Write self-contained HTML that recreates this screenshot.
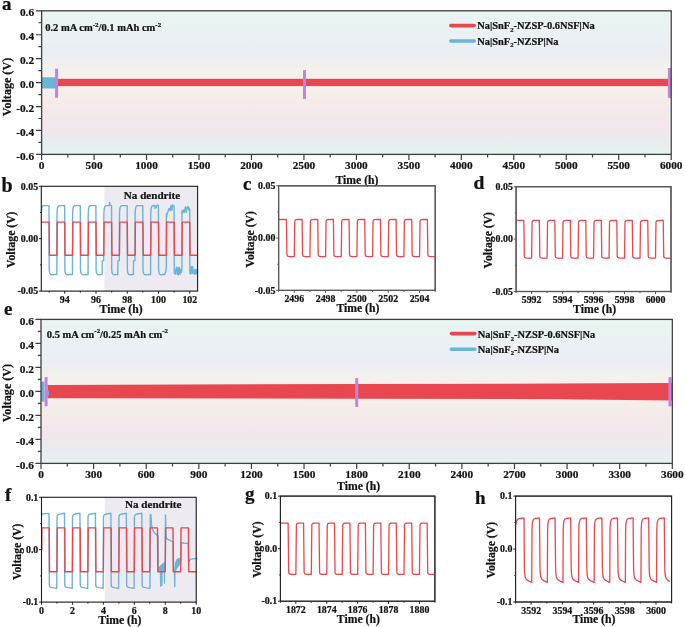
<!DOCTYPE html>
<html><head><meta charset="utf-8"><title>Figure</title>
<style>
html,body{margin:0;padding:0;background:#fff;}
svg{display:block;will-change:transform;font-family:'Liberation Serif', serif;font-weight:bold;fill:#111;}
svg text{stroke:#111;stroke-width:0.22px;}

</style></head><body>
<svg width="685" height="627" viewBox="0 0 685 627">
<rect width="685" height="627" fill="#ffffff"/>
<defs><linearGradient id="bg" x1="0" y1="0" x2="0" y2="1"><stop offset="0" stop-color="#e8f5f1"/><stop offset="0.15" stop-color="#eaf1f3"/><stop offset="0.30" stop-color="#ebeef5"/><stop offset="0.41" stop-color="#f3f1ec"/><stop offset="0.55" stop-color="#f6efea"/><stop offset="0.70" stop-color="#f4e9ea"/><stop offset="0.82" stop-color="#efe7ec"/><stop offset="0.92" stop-color="#e8ecf0"/><stop offset="1" stop-color="#e4f3f0"/></linearGradient></defs>
<rect x="41.6" y="10.8" width="628.00" height="143.60" fill="url(#bg)"/>
<rect x="41.60" y="77.3" width="14.90" height="11.2" fill="#6ab4d8"/>
<rect x="56.5" y="78.8" width="614.70" height="7.3" fill="#e8474f"/>
<rect x="55.1" y="68.6" width="3.0" height="29.20" fill="#c880e0"/>
<rect x="303.0" y="70.1" width="3.0" height="28.90" fill="#c880e0"/>
<rect x="667.9" y="68.0" width="3.0" height="29.90" fill="#c880e0"/>
<rect x="41.60" y="10.80" width="629.60" height="143.60" fill="none" stroke="#3e3e3e" stroke-width="1.3"/>
<path d="M41.60 154.40h-5.6M41.60 130.47h-5.6M41.60 106.53h-5.6M41.60 82.60h-5.6M41.60 58.67h-5.6M41.60 34.73h-5.6M41.60 10.80h-5.6" stroke="#3e3e3e" stroke-width="1.2" fill="none"/>
<path d="M41.60 142.43h-3.2M41.60 118.50h-3.2M41.60 94.57h-3.2M41.60 70.63h-3.2M41.60 46.70h-3.2M41.60 22.77h-3.2" stroke="#3e3e3e" stroke-width="1.2" fill="none"/>
<path d="M41.60 154.40v5.6M94.07 154.40v5.6M146.53 154.40v5.6M199.00 154.40v5.6M251.47 154.40v5.6M303.93 154.40v5.6M356.40 154.40v5.6M408.87 154.40v5.6M461.33 154.40v5.6M513.80 154.40v5.6M566.27 154.40v5.6M618.73 154.40v5.6M671.20 154.40v5.6" stroke="#3e3e3e" stroke-width="1.2" fill="none"/>
<path d="M67.83 154.40v3.0M120.30 154.40v3.0M172.77 154.40v3.0M225.23 154.40v3.0M277.70 154.40v3.0M330.17 154.40v3.0M382.63 154.40v3.0M435.10 154.40v3.0M487.57 154.40v3.0M540.03 154.40v3.0M592.50 154.40v3.0M644.97 154.40v3.0" stroke="#3e3e3e" stroke-width="1.2" fill="none"/>
<text x="34.10" y="159.50" font-size="11.3" text-anchor="end" >-0.6</text>
<text x="34.10" y="135.57" font-size="11.3" text-anchor="end" >-0.4</text>
<text x="34.10" y="111.63" font-size="11.3" text-anchor="end" >-0.2</text>
<text x="34.10" y="87.70" font-size="11.3" text-anchor="end" >0.0</text>
<text x="34.10" y="63.77" font-size="11.3" text-anchor="end" >0.2</text>
<text x="34.10" y="39.83" font-size="11.3" text-anchor="end" >0.4</text>
<text x="34.10" y="15.90" font-size="11.3" text-anchor="end" >0.6</text>
<text x="41.60" y="169.20" font-size="11.3" text-anchor="middle" >0</text>
<text x="94.07" y="169.20" font-size="11.3" text-anchor="middle" >500</text>
<text x="146.53" y="169.20" font-size="11.3" text-anchor="middle" >1000</text>
<text x="199.00" y="169.20" font-size="11.3" text-anchor="middle" >1500</text>
<text x="251.47" y="169.20" font-size="11.3" text-anchor="middle" >2000</text>
<text x="303.93" y="169.20" font-size="11.3" text-anchor="middle" >2500</text>
<text x="356.40" y="169.20" font-size="11.3" text-anchor="middle" >3000</text>
<text x="408.87" y="169.20" font-size="11.3" text-anchor="middle" >3500</text>
<text x="461.33" y="169.20" font-size="11.3" text-anchor="middle" >4000</text>
<text x="513.80" y="169.20" font-size="11.3" text-anchor="middle" >4500</text>
<text x="566.27" y="169.20" font-size="11.3" text-anchor="middle" >5000</text>
<text x="618.73" y="169.20" font-size="11.3" text-anchor="middle" >5500</text>
<text x="671.20" y="169.20" font-size="11.3" text-anchor="middle" >6000</text>
<text x="357.00" y="183.60" font-size="11.7" text-anchor="middle" >Time (h)</text>
<text transform="translate(10.80,87.00) rotate(-90)" font-size="12.1" text-anchor="middle">Voltage (V)</text>
<text x="2.00" y="10.40" font-size="19" text-anchor="start" >a</text>
<text x="45.2" y="31.4" font-size="10.5" text-anchor="start">0.2 mA cm<tspan dy="-4.4" font-size="6.9">-2</tspan><tspan dy="4.4">/0.1 mAh cm</tspan><tspan dy="-4.4" font-size="6.9">-2</tspan></text>
<path d="M450.8 25.6H474.2" stroke="#e8474f" stroke-width="3.6" stroke-linecap="round"/>
<path d="M450.8 41.0H474.2" stroke="#6ab4d8" stroke-width="3.6" stroke-linecap="round"/>
<text x="477.3" y="29.1" font-size="10.4" text-anchor="start">Na|SnF<tspan dy="2.4" font-size="6.6">2</tspan><tspan dy="-2.4">-NZSP-0.6NSF|Na</tspan></text>
<text x="477.3" y="44.7" font-size="10.4" text-anchor="start">Na|SnF<tspan dy="2.4" font-size="6.6">2</tspan><tspan dy="-2.4">-NZSP|Na</tspan></text>
<rect x="41.0" y="319.4" width="629.70" height="144.00" fill="url(#bg)"/>
<path d="M41.0 381.6H44.5V401.6H41.0Z" fill="#6ab4d8"/>
<path d="M47 389.0Q51.4 393.2 47 397.5Z" fill="#6ab4d8"/>
<path d="M47.5 385.0 L356.7 383.9 L560 383.6 L672 383.0 L672 400.6 L560 399.2 L356.7 398.7 L47.5 398.3Z" fill="#e8474f"/>
<path d="M47 389.0Q51.4 393.2 47 397.5Z" fill="#6ab4d8"/>
<rect x="44.6" y="377.1" width="3.0" height="29.20" fill="#c880e0"/>
<rect x="355.2" y="378.1" width="3.0" height="28.80" fill="#c880e0"/>
<rect x="668.5" y="377.1" width="3.0" height="29.20" fill="#c880e0"/>
<rect x="41.00" y="319.40" width="631.30" height="144.00" fill="none" stroke="#3e3e3e" stroke-width="1.3"/>
<path d="M41.00 463.40h-5.6M41.00 439.40h-5.6M41.00 415.40h-5.6M41.00 391.40h-5.6M41.00 367.40h-5.6M41.00 343.40h-5.6M41.00 319.40h-5.6" stroke="#3e3e3e" stroke-width="1.2" fill="none"/>
<path d="M41.00 451.40h-3.2M41.00 427.40h-3.2M41.00 403.40h-3.2M41.00 379.40h-3.2M41.00 355.40h-3.2M41.00 331.40h-3.2" stroke="#3e3e3e" stroke-width="1.2" fill="none"/>
<path d="M41.00 463.40v5.6M93.61 463.40v5.6M146.22 463.40v5.6M198.82 463.40v5.6M251.43 463.40v5.6M304.04 463.40v5.6M356.65 463.40v5.6M409.26 463.40v5.6M461.87 463.40v5.6M514.47 463.40v5.6M567.08 463.40v5.6M619.69 463.40v5.6M672.30 463.40v5.6" stroke="#3e3e3e" stroke-width="1.2" fill="none"/>
<path d="M67.30 463.40v3.0M119.91 463.40v3.0M172.52 463.40v3.0M225.13 463.40v3.0M277.74 463.40v3.0M330.35 463.40v3.0M382.95 463.40v3.0M435.56 463.40v3.0M488.17 463.40v3.0M540.78 463.40v3.0M593.39 463.40v3.0M646.00 463.40v3.0" stroke="#3e3e3e" stroke-width="1.2" fill="none"/>
<text x="33.90" y="468.50" font-size="11.3" text-anchor="end" >-0.6</text>
<text x="33.90" y="444.50" font-size="11.3" text-anchor="end" >-0.4</text>
<text x="33.90" y="420.50" font-size="11.3" text-anchor="end" >-0.2</text>
<text x="33.90" y="396.50" font-size="11.3" text-anchor="end" >0.0</text>
<text x="33.90" y="372.50" font-size="11.3" text-anchor="end" >0.2</text>
<text x="33.90" y="348.50" font-size="11.3" text-anchor="end" >0.4</text>
<text x="33.90" y="324.50" font-size="11.3" text-anchor="end" >0.6</text>
<text x="41.00" y="478.20" font-size="11.3" text-anchor="middle" >0</text>
<text x="93.61" y="478.20" font-size="11.3" text-anchor="middle" >300</text>
<text x="146.22" y="478.20" font-size="11.3" text-anchor="middle" >600</text>
<text x="198.82" y="478.20" font-size="11.3" text-anchor="middle" >900</text>
<text x="251.43" y="478.20" font-size="11.3" text-anchor="middle" >1200</text>
<text x="304.04" y="478.20" font-size="11.3" text-anchor="middle" >1500</text>
<text x="356.65" y="478.20" font-size="11.3" text-anchor="middle" >1800</text>
<text x="409.26" y="478.20" font-size="11.3" text-anchor="middle" >2100</text>
<text x="461.87" y="478.20" font-size="11.3" text-anchor="middle" >2400</text>
<text x="514.47" y="478.20" font-size="11.3" text-anchor="middle" >2700</text>
<text x="567.08" y="478.20" font-size="11.3" text-anchor="middle" >3000</text>
<text x="619.69" y="478.20" font-size="11.3" text-anchor="middle" >3300</text>
<text x="672.30" y="478.20" font-size="11.3" text-anchor="middle" >3600</text>
<text x="358.60" y="489.90" font-size="11.7" text-anchor="middle" >Time (h)</text>
<text transform="translate(10.90,393.10) rotate(-90)" font-size="12.1" text-anchor="middle">Voltage (V)</text>
<text x="4.00" y="314.80" font-size="19" text-anchor="start" >e</text>
<text x="46.8" y="337.6" font-size="10.5" text-anchor="start">0.5 mA cm<tspan dy="-4.4" font-size="6.9">-2</tspan><tspan dy="4.4">/0.25 mAh cm</tspan><tspan dy="-4.4" font-size="6.9">-2</tspan></text>
<path d="M451.4 333.6H474.8" stroke="#e8474f" stroke-width="3.6" stroke-linecap="round"/>
<path d="M451.4 349.3H474.8" stroke="#6ab4d8" stroke-width="3.6" stroke-linecap="round"/>
<text x="477.8" y="338.1" font-size="10.4" text-anchor="start">Na|SnF<tspan dy="2.4" font-size="6.6">2</tspan><tspan dy="-2.4">-NZSP-0.6NSF|Na</tspan></text>
<text x="477.8" y="353.0" font-size="10.4" text-anchor="start">Na|SnF<tspan dy="2.4" font-size="6.6">2</tspan><tspan dy="-2.4">-NZSP|Na</tspan></text>
<rect x="104.4" y="186.3" width="93.20" height="104.80" fill="#edeaf1"/>
<path d="M41.30 212.00 L41.80 207.40 L42.70 205.90 L43.90 205.60 L49.01 205.60 L49.21 270.00 L49.61 272.80 L50.61 274.50 L53.11 274.70 L54.11 274.40 L56.83 274.50 L56.98 214.00 L57.28 209.00 L57.83 206.80 L58.83 205.80 L59.93 205.60 L64.65 205.60 L64.84 270.00 L65.25 272.80 L66.25 274.50 L68.75 274.70 L69.75 274.40 L72.46 274.50 L72.61 214.00 L72.91 209.00 L73.46 206.80 L74.46 205.80 L75.56 205.60 L80.28 205.60 L80.47 270.00 L80.88 272.80 L81.88 274.50 L84.38 274.70 L85.38 274.40 L88.09 274.50 L88.24 214.00 L88.54 209.00 L89.09 206.80 L90.09 205.80 L91.19 205.60 L95.91 205.60 L96.10 270.00 L96.50 272.80 L97.50 274.50 L100.00 274.70 L101.00 274.40 L102.12 274.50 L102.27 261.00 L103.67 260.60 L103.87 214.00 L104.17 209.00 L104.72 206.80 L105.72 205.80 L106.82 205.60 L109.34 205.60 L109.64 202.30 L109.94 205.00 L110.73 205.40 L111.54 205.60 L111.73 270.00 L112.14 272.80 L113.14 274.50 L115.64 274.70 L116.64 274.40 L117.75 274.50 L117.90 261.00 L119.30 260.60 L119.50 214.00 L119.80 209.00 L120.35 206.80 L121.35 205.80 L122.45 205.60 L127.17 205.60 L127.36 270.00 L127.77 272.80 L128.76 274.50 L131.26 274.70 L132.26 274.40 L133.38 274.50 L133.53 261.00 L134.93 260.60 L135.13 214.00 L135.43 209.00 L135.98 206.80 L136.98 205.80 L138.08 205.60 L142.79 205.60 L142.99 270.00 L143.39 272.80 L144.39 274.50 L146.89 274.70 L147.89 274.40 L150.61 274.50 L150.76 214.00 L151.06 209.00 L151.61 206.80 L152.61 205.80 L153.71 205.60 L154.11 206.00 L154.61 205.30 L155.11 208.40 L155.61 206.00 L156.21 207.60 L156.81 205.60 L157.71 205.20 L158.42 205.20 L158.62 270.00 L159.02 272.80 L160.02 274.50 L161.52 274.80 L163.02 274.30 L164.72 274.50 L165.42 272.80 L166.02 270.00 L166.37 266.50 L166.34 214.00 L166.69 217.00 L167.14 213.50 L167.94 211.70 L168.54 209.50 L169.14 208.40 L169.74 209.20 L170.34 210.90 L170.74 207.00 L171.14 205.40 L171.54 208.50 L171.94 210.20 L172.34 206.50 L172.74 205.00 L173.34 205.60 L173.94 206.00 L174.06 206.00 L174.26 272.60 L175.16 274.20 L175.96 269.40 L176.56 267.20 L177.16 274.20 L177.96 268.00 L178.46 275.00 L179.26 267.20 L180.06 274.20 L180.86 269.20 L181.56 272.20 L181.96 266.00 L181.97 210.80 L182.47 213.40 L182.87 212.50 L183.57 210.00 L183.97 211.50 L184.37 212.40 L184.97 208.60 L185.57 206.80 L185.97 209.50 L186.37 212.40 L186.77 209.00 L187.17 207.60 L187.97 206.40 L188.37 208.50 L188.77 210.00 L189.17 208.00 L189.57 208.60 L189.69 209.50 L189.89 273.00 L190.59 274.20 L191.39 266.80 L192.19 273.40 L192.59 266.40 L193.39 272.60 L194.19 274.20 L194.59 271.00 L194.99 269.40 L195.39 273.60 L195.79 269.60 L196.19 273.80 L196.59 269.80 L196.99 273.00 L197.30 270.40" stroke="#6ab4d8" stroke-width="1.4" fill="none" stroke-linejoin="round" />
<path d="M194.19 274.4 L194.39 270 L197.20 269.6 L197.20 274.4Z" fill="#6ab4d8" opacity="0.85"/>
<path d="M41.30 222.14 L49.11 222.14 L49.43 255.26 L56.93 255.26 L57.24 222.14 L64.75 222.14 L65.06 255.26 L72.56 255.26 L72.87 222.14 L80.38 222.14 L80.69 255.26 L88.19 255.26 L88.50 222.14 L96.00 222.14 L96.32 255.26 L103.82 255.26 L104.13 222.14 L111.64 222.14 L111.95 255.26 L119.45 255.26 L119.76 222.14 L127.27 222.14 L127.58 255.26 L135.08 255.26 L135.39 222.14 L142.90 222.14 L143.21 255.26 L150.71 255.26 L151.02 222.14 L158.53 222.14 L158.84 255.26 L166.34 255.26 L166.65 222.14 L174.16 222.14 L174.47 255.26 L181.97 255.26 L182.28 222.14 L189.79 222.14 L190.10 255.26 L197.60 255.26" stroke="#e8474f" stroke-width="1.4" fill="none" stroke-linejoin="round" />
<rect x="41.30" y="186.30" width="156.30" height="104.80" fill="none" stroke="#1a1a1a" stroke-width="1.1"/>
<path d="M41.30 186.30h-2.4M41.30 238.70h-2.4M41.30 291.10h-2.4" stroke="#1a1a1a" stroke-width="1.0" fill="none"/>
<path d="M41.30 212.50h-1.2M41.30 264.90h-1.2" stroke="#1a1a1a" stroke-width="1.0" fill="none"/>
<path d="M64.75 291.10v2.6M96.00 291.10v2.6M127.27 291.10v2.6M158.53 291.10v2.6M189.79 291.10v2.6" stroke="#1a1a1a" stroke-width="1.0" fill="none"/>
<path d="M49.11 291.10v1.5M80.38 291.10v1.5M111.64 291.10v1.5M142.90 291.10v1.5M174.16 291.10v1.5" stroke="#1a1a1a" stroke-width="1.0" fill="none"/>
<text x="38.10" y="189.50" font-size="9.9" text-anchor="end" >0.05</text>
<text x="38.10" y="241.90" font-size="9.9" text-anchor="end" >0.00</text>
<text x="38.10" y="294.30" font-size="9.9" text-anchor="end" >-0.05</text>
<text x="64.75" y="302.60" font-size="9.9" text-anchor="middle" >94</text>
<text x="96.00" y="302.60" font-size="9.9" text-anchor="middle" >96</text>
<text x="127.27" y="302.60" font-size="9.9" text-anchor="middle" >98</text>
<text x="158.53" y="302.60" font-size="9.9" text-anchor="middle" >100</text>
<text x="189.79" y="302.60" font-size="9.9" text-anchor="middle" >102</text>
<text x="121.05" y="312.90" font-size="11.7" text-anchor="middle" >Time (h)</text>
<text transform="translate(14.60,239.70) rotate(-90)" font-size="11.7" text-anchor="middle">Voltage (V)</text>
<text x="1.60" y="192.20" font-size="20.0" text-anchor="start" >b</text>
<text x="152.00" y="198.90" font-size="11.1" text-anchor="middle" >Na dendrite</text>
<rect x="278.60" y="185.80" width="156.60" height="104.60" fill="none" stroke="#585858" stroke-width="1.2"/>
<path d="M278.60 185.80h-2.4M278.60 238.10h-2.4M278.60 290.40h-2.4" stroke="#585858" stroke-width="1.0" fill="none"/>
<path d="M278.60 211.95h-1.2M278.60 264.25h-1.2" stroke="#585858" stroke-width="1.0" fill="none"/>
<path d="M294.26 290.40v2.6M325.58 290.40v2.6M356.90 290.40v2.6M388.22 290.40v2.6M419.54 290.40v2.6" stroke="#585858" stroke-width="1.0" fill="none"/>
<path d="M278.60 290.40v1.5M309.92 290.40v1.5M341.24 290.40v1.5M372.56 290.40v1.5M403.88 290.40v1.5M435.20 290.40v1.5" stroke="#585858" stroke-width="1.0" fill="none"/>
<text x="275.40" y="189.00" font-size="9.9" text-anchor="end" >0.05</text>
<text x="275.40" y="241.30" font-size="9.9" text-anchor="end" >0.00</text>
<text x="275.40" y="293.60" font-size="9.9" text-anchor="end" >-0.05</text>
<text x="294.26" y="302.00" font-size="9.9" text-anchor="middle" >2496</text>
<text x="325.58" y="302.00" font-size="9.9" text-anchor="middle" >2498</text>
<text x="356.90" y="302.00" font-size="9.9" text-anchor="middle" >2500</text>
<text x="388.22" y="302.00" font-size="9.9" text-anchor="middle" >2502</text>
<text x="419.54" y="302.00" font-size="9.9" text-anchor="middle" >2504</text>
<text x="357.90" y="312.40" font-size="11.7" text-anchor="middle" >Time (h)</text>
<text transform="translate(253.80,239.30) rotate(-90)" font-size="11.7" text-anchor="middle">Voltage (V)</text>
<text x="243.00" y="190.00" font-size="19" text-anchor="start" >c</text>
<path d="M278.60 219.48 L286.43 219.48 L286.90 254.76 L287.37 255.97 L288.31 256.47 L289.41 256.61 L294.26 256.61 L294.73 221.34 L295.20 220.13 L296.14 219.63 L297.24 219.48 L302.09 219.48 L302.56 254.76 L303.03 255.97 L303.97 256.47 L305.07 256.61 L309.92 256.61 L310.39 221.34 L310.86 220.13 L311.80 219.63 L312.90 219.48 L317.75 219.48 L318.22 254.76 L318.69 255.97 L319.63 256.47 L320.73 256.61 L325.58 256.61 L326.05 221.34 L326.52 220.13 L327.46 219.63 L328.56 219.48 L333.41 219.48 L333.88 254.76 L334.35 255.97 L335.29 256.47 L336.39 256.61 L341.24 256.61 L341.71 221.34 L342.18 220.13 L343.12 219.63 L344.22 219.48 L349.07 219.48 L349.54 254.76 L350.01 255.97 L350.95 256.47 L352.05 256.61 L356.90 256.61 L357.37 221.34 L357.84 220.13 L358.78 219.63 L359.88 219.48 L364.73 219.48 L365.20 254.76 L365.67 255.97 L366.61 256.47 L367.71 256.61 L372.56 256.61 L373.03 221.34 L373.50 220.13 L374.44 219.63 L375.54 219.48 L380.39 219.48 L380.86 254.76 L381.33 255.97 L382.27 256.47 L383.37 256.61 L388.22 256.61 L388.69 221.34 L389.16 220.13 L390.10 219.63 L391.20 219.48 L396.05 219.48 L396.52 254.76 L396.99 255.97 L397.93 256.47 L399.03 256.61 L403.88 256.61 L404.35 221.34 L404.82 220.13 L405.76 219.63 L406.86 219.48 L411.71 219.48 L412.18 254.76 L412.65 255.97 L413.59 256.47 L414.69 256.61 L419.54 256.61 L420.01 221.34 L420.48 220.13 L421.42 219.63 L422.52 219.48 L427.37 219.48 L427.84 254.76 L428.31 255.97 L429.25 256.47 L430.35 256.61 L435.20 256.61" stroke="#e8474f" stroke-width="1.3" fill="none" stroke-linejoin="round" />
<rect x="278.60" y="185.80" width="156.60" height="104.60" fill="none" stroke="#585858" stroke-width="1.2"/>
<rect x="516.10" y="186.70" width="154.90" height="104.80" fill="none" stroke="#585858" stroke-width="1.2"/>
<path d="M516.10 186.70h-2.4M516.10 239.10h-2.4M516.10 291.50h-2.4" stroke="#585858" stroke-width="1.0" fill="none"/>
<path d="M516.10 212.90h-1.2M516.10 265.30h-1.2" stroke="#585858" stroke-width="1.0" fill="none"/>
<path d="M531.59 291.50v2.6M562.57 291.50v2.6M593.55 291.50v2.6M624.53 291.50v2.6M655.51 291.50v2.6" stroke="#585858" stroke-width="1.0" fill="none"/>
<path d="M516.10 291.50v1.5M547.08 291.50v1.5M578.06 291.50v1.5M609.04 291.50v1.5M640.02 291.50v1.5M671.00 291.50v1.5" stroke="#585858" stroke-width="1.0" fill="none"/>
<text x="512.90" y="189.90" font-size="9.9" text-anchor="end" >0.05</text>
<text x="512.90" y="242.30" font-size="9.9" text-anchor="end" >0.00</text>
<text x="512.90" y="294.70" font-size="9.9" text-anchor="end" >-0.05</text>
<text x="531.59" y="302.70" font-size="9.9" text-anchor="middle" >5992</text>
<text x="562.57" y="302.70" font-size="9.9" text-anchor="middle" >5994</text>
<text x="593.55" y="302.70" font-size="9.9" text-anchor="middle" >5996</text>
<text x="624.53" y="302.70" font-size="9.9" text-anchor="middle" >5998</text>
<text x="655.51" y="302.70" font-size="9.9" text-anchor="middle" >6000</text>
<text x="594.55" y="313.00" font-size="11.7" text-anchor="middle" >Time (h)</text>
<text transform="translate(491.80,240.20) rotate(-90)" font-size="11.7" text-anchor="middle">Voltage (V)</text>
<text x="473.60" y="188.80" font-size="19.6" text-anchor="start" >d</text>
<path d="M516.10 220.45 L523.85 220.45 L524.31 256.17 L524.77 257.40 L525.70 257.92 L526.79 258.07 L531.59 258.07 L532.05 222.31 L532.52 221.10 L533.45 220.59 L534.53 220.45 L539.34 220.45 L539.80 256.17 L540.26 257.40 L541.19 257.92 L542.28 258.07 L547.08 258.07 L547.54 222.31 L548.01 221.10 L548.94 220.59 L550.02 220.45 L554.83 220.45 L555.29 256.17 L555.75 257.40 L556.68 257.92 L557.77 258.07 L562.57 258.07 L563.03 222.31 L563.50 221.10 L564.43 220.59 L565.51 220.45 L570.32 220.45 L570.78 256.17 L571.24 257.40 L572.17 257.92 L573.26 258.07 L578.06 258.07 L578.52 222.31 L578.99 221.10 L579.92 220.59 L581.00 220.45 L585.81 220.45 L586.27 256.17 L586.73 257.40 L587.66 257.92 L588.75 258.07 L593.55 258.07 L594.01 222.31 L594.48 221.10 L595.41 220.59 L596.49 220.45 L601.30 220.45 L601.76 256.17 L602.22 257.40 L603.15 257.92 L604.24 258.07 L609.04 258.07 L609.50 222.31 L609.97 221.10 L610.90 220.59 L611.98 220.45 L616.78 220.45 L617.25 256.17 L617.71 257.40 L618.64 257.92 L619.73 258.07 L624.53 258.07 L624.99 222.31 L625.46 221.10 L626.39 220.59 L627.47 220.45 L632.27 220.45 L632.74 256.17 L633.20 257.40 L634.13 257.92 L635.22 258.07 L640.02 258.07 L640.48 222.31 L640.95 221.10 L641.88 220.59 L642.96 220.45 L647.76 220.45 L648.23 256.17 L648.69 257.40 L649.62 257.92 L650.71 258.07 L655.51 258.07 L655.97 222.31 L656.44 221.10 L657.37 220.59 L658.45 220.45 L663.25 220.45 L663.72 256.17 L664.18 257.40 L665.11 257.92 L666.20 258.07 L671.00 258.07" stroke="#e8474f" stroke-width="1.3" fill="none" stroke-linejoin="round" />
<rect x="516.10" y="186.70" width="154.90" height="104.80" fill="none" stroke="#585858" stroke-width="1.2"/>
<rect x="104.7" y="497.3" width="91.50" height="104.80" fill="#edeaf1"/>
<path d="M158.2 572 L158.4 568.4 L161 565.8 L163 564 L165.3 562 L165.3 572Z" fill="#6ab4d8"/>
<path d="M174.7 571.6 L175.3 565.8 L176.2 561.6 L177.5 559.2 L180.6 558.8 L180.6 564.5 L178.6 566.5 L176.8 569 L175.8 571.6Z" fill="#6ab4d8"/>
<path d="M41.50 515.38 L41.96 514.49 L43.05 513.91 L49.00 513.39 L49.33 584.91 L49.62 586.38 L50.32 587.06 L52.33 587.59 L56.74 588.32 L57.06 517.47 L57.36 515.54 L58.05 514.59 L60.06 513.96 L64.47 513.28 L64.80 584.91 L65.09 586.38 L65.79 587.06 L67.80 587.59 L72.21 588.32 L72.53 517.47 L72.83 515.54 L73.52 514.59 L75.53 513.96 L79.94 513.28 L80.27 584.91 L80.56 586.38 L81.26 587.06 L83.27 587.59 L87.68 588.32 L88.00 517.47 L88.30 515.54 L88.99 514.59 L91.00 513.96 L95.41 513.28 L95.74 584.91 L96.03 586.38 L96.73 587.06 L98.74 587.59 L103.15 588.32 L103.47 517.47 L103.77 515.54 L104.46 514.59 L106.47 513.96 L110.88 513.28 L111.21 584.91 L111.50 586.38 L112.20 587.06 L114.21 587.59 L118.62 588.32 L118.94 517.47 L119.24 515.54 L119.93 514.59 L121.94 513.96 L126.35 513.28 L126.68 584.91 L126.97 586.38 L127.67 587.06 L129.68 587.59 L134.09 588.32 L134.41 517.47 L134.71 515.54 L135.40 514.59 L137.41 513.96 L141.82 513.28 L142.15 584.91 L142.44 586.38 L143.14 587.06 L145.15 587.59 L149.56 588.32 L150.00 587.60 L150.30 514.40 L150.90 514.80 L151.40 524.00 L152.20 528.60 L153.40 531.40 L155.00 533.40 L156.80 535.00 L158.00 535.80 L158.20 571.50 L158.40 568.60 L159.60 567.20 L161.00 565.80 L162.50 564.40 L164.00 563.00 L165.30 562.20 L165.50 515.00 L165.80 530.00 L166.20 537.40 L167.00 538.80 L169.00 539.80 L171.00 540.80 L173.00 541.60 L173.30 541.80 L173.50 571.00 L174.50 571.40 L174.70 586.60 L174.90 570.00 L175.40 565.50 L176.20 561.60 L177.30 559.40 L178.50 558.80 L180.60 559.00 L180.90 561.00 L181.10 542.60 L182.00 542.80 L184.00 543.20 L186.50 543.40 L188.20 543.00 L188.50 561.80 L189.20 561.20 L190.20 559.60 L191.50 558.90 L197.50 558.50" stroke="#6ab4d8" stroke-width="1.4" fill="none" stroke-linejoin="round" />
<path d="M160.30 570.00 L160.50 586.60 L160.80 570.00 M161.60 570.00 L161.90 586.00 L162.20 570.00 M164.20 570.00 L164.50 583.50 L164.70 570.00" stroke="#6ab4d8" stroke-width="1.0" fill="none" stroke-linejoin="round" />
<path d="M41.80 549.70 L41.80 527.85 L49.23 527.85 L49.54 571.76 L56.97 571.76 L57.28 527.85 L64.70 527.85 L65.01 571.76 L72.44 571.76 L72.75 527.85 L80.17 527.85 L80.48 571.76 L87.91 571.76 L88.22 527.85 L95.64 527.85 L95.95 571.76 L103.38 571.76 L103.69 527.85 L111.11 527.85 L111.42 571.76 L118.85 571.76 L119.16 527.85 L126.58 527.85 L126.89 571.76 L134.32 571.76 L134.63 527.85 L142.06 527.85 L142.36 571.76 L149.79 571.76 L150.10 527.85 L157.52 527.85 L157.83 571.76 L165.26 571.76 L165.57 527.85 L172.99 527.85 L173.30 571.76 L180.73 571.76 L181.04 527.85 L188.46 527.85 L188.77 571.76 L196.20 571.76" stroke="#e8474f" stroke-width="1.4" fill="none" stroke-linejoin="round" />
<rect x="41.50" y="497.30" width="154.70" height="104.80" fill="none" stroke="#1a1a1a" stroke-width="1.1"/>
<path d="M41.50 497.30h-2.4M41.50 549.70h-2.4M41.50 602.10h-2.4" stroke="#1a1a1a" stroke-width="1.0" fill="none"/>
<path d="M41.50 523.50h-1.2M41.50 575.90h-1.2" stroke="#1a1a1a" stroke-width="1.0" fill="none"/>
<path d="M41.50 602.10v2.6M72.44 602.10v2.6M103.38 602.10v2.6M134.32 602.10v2.6M165.26 602.10v2.6M196.20 602.10v2.6" stroke="#1a1a1a" stroke-width="1.0" fill="none"/>
<path d="M56.97 602.10v1.5M87.91 602.10v1.5M118.85 602.10v1.5M149.79 602.10v1.5M180.73 602.10v1.5" stroke="#1a1a1a" stroke-width="1.0" fill="none"/>
<text x="38.30" y="500.50" font-size="9.9" text-anchor="end" >0.1</text>
<text x="38.30" y="552.90" font-size="9.9" text-anchor="end" >0.0</text>
<text x="38.30" y="605.30" font-size="9.9" text-anchor="end" >-0.1</text>
<text x="41.50" y="613.80" font-size="9.9" text-anchor="middle" >0</text>
<text x="72.44" y="613.80" font-size="9.9" text-anchor="middle" >2</text>
<text x="103.38" y="613.80" font-size="9.9" text-anchor="middle" >4</text>
<text x="134.32" y="613.80" font-size="9.9" text-anchor="middle" >6</text>
<text x="165.26" y="613.80" font-size="9.9" text-anchor="middle" >8</text>
<text x="196.20" y="613.80" font-size="9.9" text-anchor="middle" >10</text>
<text x="119.85" y="623.80" font-size="11.7" text-anchor="middle" >Time (h)</text>
<text transform="translate(21.40,551.80) rotate(-90)" font-size="11.7" text-anchor="middle">Voltage (V)</text>
<text x="5.00" y="500.80" font-size="19" text-anchor="start" >f</text>
<text x="153.20" y="508.30" font-size="11.1" text-anchor="middle" >Na dendrite</text>
<rect x="280.40" y="496.10" width="154.50" height="105.10" fill="none" stroke="#222" stroke-width="1.0"/>
<path d="M280.40 496.10h-2.4M280.40 548.65h-2.4M280.40 601.20h-2.4" stroke="#222" stroke-width="1.0" fill="none"/>
<path d="M280.40 522.38h-1.2M280.40 574.93h-1.2" stroke="#222" stroke-width="1.0" fill="none"/>
<path d="M295.85 601.20v2.6M326.75 601.20v2.6M357.65 601.20v2.6M388.55 601.20v2.6M419.45 601.20v2.6" stroke="#222" stroke-width="1.0" fill="none"/>
<path d="M280.40 601.20v1.5M311.30 601.20v1.5M342.20 601.20v1.5M373.10 601.20v1.5M404.00 601.20v1.5M434.90 601.20v1.5" stroke="#222" stroke-width="1.0" fill="none"/>
<text x="277.20" y="499.30" font-size="9.9" text-anchor="end" >0.1</text>
<text x="277.20" y="551.85" font-size="9.9" text-anchor="end" >0.0</text>
<text x="277.20" y="604.40" font-size="9.9" text-anchor="end" >-0.1</text>
<text x="295.85" y="613.00" font-size="9.9" text-anchor="middle" >1872</text>
<text x="326.75" y="613.00" font-size="9.9" text-anchor="middle" >1874</text>
<text x="357.65" y="613.00" font-size="9.9" text-anchor="middle" >1876</text>
<text x="388.55" y="613.00" font-size="9.9" text-anchor="middle" >1878</text>
<text x="419.45" y="613.00" font-size="9.9" text-anchor="middle" >1880</text>
<text x="358.35" y="623.10" font-size="11.7" text-anchor="middle" >Time (h)</text>
<text transform="translate(261.10,549.65) rotate(-90)" font-size="11.7" text-anchor="middle">Voltage (V)</text>
<text x="245.00" y="499.60" font-size="19" text-anchor="start" >g</text>
<path d="M280.40 523.11 L288.12 523.11 L288.67 572.60 L289.13 573.77 L290.06 574.26 L291.14 574.40 L295.85 574.40 L296.39 524.90 L296.85 523.74 L297.78 523.25 L298.86 523.11 L303.57 523.11 L304.12 572.60 L304.58 573.77 L305.51 574.26 L306.59 574.40 L311.30 574.40 L311.84 524.90 L312.30 523.74 L313.23 523.25 L314.31 523.11 L319.02 523.11 L319.57 572.60 L320.03 573.77 L320.96 574.26 L322.04 574.40 L326.75 574.40 L327.29 524.90 L327.75 523.74 L328.68 523.25 L329.76 523.11 L334.47 523.11 L335.02 572.60 L335.48 573.77 L336.41 574.26 L337.49 574.40 L342.20 574.40 L342.74 524.90 L343.20 523.74 L344.13 523.25 L345.21 523.11 L349.92 523.11 L350.47 572.60 L350.93 573.77 L351.86 574.26 L352.94 574.40 L357.65 574.40 L358.19 524.90 L358.65 523.74 L359.58 523.25 L360.66 523.11 L365.38 523.11 L365.92 572.60 L366.38 573.77 L367.31 574.26 L368.39 574.40 L373.10 574.40 L373.64 524.90 L374.10 523.74 L375.03 523.25 L376.11 523.11 L380.82 523.11 L381.37 572.60 L381.83 573.77 L382.76 574.26 L383.84 574.40 L388.55 574.40 L389.09 524.90 L389.55 523.74 L390.48 523.25 L391.56 523.11 L396.27 523.11 L396.82 572.60 L397.28 573.77 L398.21 574.26 L399.29 574.40 L404.00 574.40 L404.54 524.90 L405.00 523.74 L405.93 523.25 L407.01 523.11 L411.72 523.11 L412.27 572.60 L412.73 573.77 L413.66 574.26 L414.74 574.40 L419.45 574.40 L419.99 524.90 L420.45 523.74 L421.38 523.25 L422.46 523.11 L427.17 523.11 L427.72 572.60 L428.18 573.77 L429.11 574.26 L430.19 574.40 L434.90 574.40" stroke="#e8474f" stroke-width="1.3" fill="none" stroke-linejoin="round" />
<rect x="280.40" y="496.10" width="154.50" height="105.10" fill="none" stroke="#222" stroke-width="1.0"/>
<rect x="515.60" y="496.10" width="156.00" height="105.90" fill="none" stroke="#222" stroke-width="1.0"/>
<path d="M515.60 496.10h-2.4M515.60 549.05h-2.4M515.60 602.00h-2.4" stroke="#222" stroke-width="1.0" fill="none"/>
<path d="M515.60 522.58h-1.2M515.60 575.52h-1.2" stroke="#222" stroke-width="1.0" fill="none"/>
<path d="M531.20 602.00v2.6M562.40 602.00v2.6M593.60 602.00v2.6M624.80 602.00v2.6M656.00 602.00v2.6" stroke="#222" stroke-width="1.0" fill="none"/>
<path d="M515.60 602.00v1.5M546.80 602.00v1.5M578.00 602.00v1.5M609.20 602.00v1.5M640.40 602.00v1.5M671.60 602.00v1.5" stroke="#222" stroke-width="1.0" fill="none"/>
<text x="512.40" y="499.30" font-size="9.9" text-anchor="end" >0.1</text>
<text x="512.40" y="552.25" font-size="9.9" text-anchor="end" >0.0</text>
<text x="512.40" y="605.20" font-size="9.9" text-anchor="end" >-0.1</text>
<text x="531.20" y="614.00" font-size="9.9" text-anchor="middle" >3592</text>
<text x="562.40" y="614.00" font-size="9.9" text-anchor="middle" >3594</text>
<text x="593.60" y="614.00" font-size="9.9" text-anchor="middle" >3596</text>
<text x="624.80" y="614.00" font-size="9.9" text-anchor="middle" >3598</text>
<text x="656.00" y="614.00" font-size="9.9" text-anchor="middle" >3600</text>
<text x="593.90" y="623.00" font-size="11.7" text-anchor="middle" >Time (h)</text>
<text transform="translate(495.00,550.15) rotate(-90)" font-size="11.7" text-anchor="middle">Voltage (V)</text>
<text x="475.00" y="504.40" font-size="19" text-anchor="start" >h</text>
<path d="M515.60 525.22 L516.07 522.58 L516.85 520.19 L518.41 518.87 L521.06 518.23 L524.02 517.92 L524.37 567.05 L524.65 573.41 L525.12 576.85 L525.90 578.81 L527.30 580.18 L529.64 581.46 L531.75 582.41 L532.01 529.99 L532.29 524.16 L532.76 520.99 L533.54 519.29 L534.94 518.50 L537.28 518.07 L539.47 517.81 L539.97 567.05 L540.25 573.41 L540.72 576.85 L541.50 578.81 L542.90 580.18 L545.24 581.46 L547.35 582.41 L547.61 529.99 L547.89 524.16 L548.36 520.99 L549.14 519.29 L550.54 518.50 L552.88 518.07 L555.07 517.81 L555.57 567.05 L555.85 573.41 L556.32 576.85 L557.10 578.81 L558.50 580.18 L560.84 581.46 L562.95 582.41 L563.21 529.99 L563.49 524.16 L563.96 520.99 L564.74 519.29 L566.14 518.50 L568.48 518.07 L570.67 517.81 L571.17 567.05 L571.45 573.41 L571.92 576.85 L572.70 578.81 L574.10 580.18 L576.44 581.46 L578.55 582.41 L578.81 529.99 L579.09 524.16 L579.56 520.99 L580.34 519.29 L581.74 518.50 L584.08 518.07 L586.27 517.81 L586.77 567.05 L587.05 573.41 L587.52 576.85 L588.30 578.81 L589.70 580.18 L592.04 581.46 L594.15 582.41 L594.41 529.99 L594.69 524.16 L595.16 520.99 L595.94 519.29 L597.34 518.50 L599.68 518.07 L601.87 517.81 L602.37 567.05 L602.65 573.41 L603.12 576.85 L603.90 578.81 L605.30 580.18 L607.64 581.46 L609.75 582.41 L610.01 529.99 L610.29 524.16 L610.76 520.99 L611.54 519.29 L612.94 518.50 L615.28 518.07 L617.47 517.81 L617.97 567.05 L618.25 573.41 L618.72 576.85 L619.50 578.81 L620.90 580.18 L623.24 581.46 L625.35 582.41 L625.61 529.99 L625.89 524.16 L626.36 520.99 L627.14 519.29 L628.54 518.50 L630.88 518.07 L633.07 517.81 L633.57 567.05 L633.85 573.41 L634.32 576.85 L635.10 578.81 L636.50 580.18 L638.84 581.46 L640.95 582.41 L641.21 529.99 L641.49 524.16 L641.96 520.99 L642.74 519.29 L644.14 518.50 L646.48 518.07 L648.67 517.81 L649.17 567.05 L649.45 573.41 L649.92 576.85 L650.70 578.81 L652.10 580.18 L654.44 581.46 L656.55 582.41 L656.81 529.99 L657.09 524.16 L657.56 520.99 L658.34 519.29 L659.74 518.50 L662.08 518.07 L664.27 517.81 L664.77 567.05 L665.05 573.41 L665.52 576.85 L666.30 578.81 L667.70 580.18 L670.04 581.46" stroke="#e8474f" stroke-width="1.3" fill="none" stroke-linejoin="round" />
<rect x="515.60" y="496.10" width="156.00" height="105.90" fill="none" stroke="#222" stroke-width="1.0"/>
</svg>
</body></html>
